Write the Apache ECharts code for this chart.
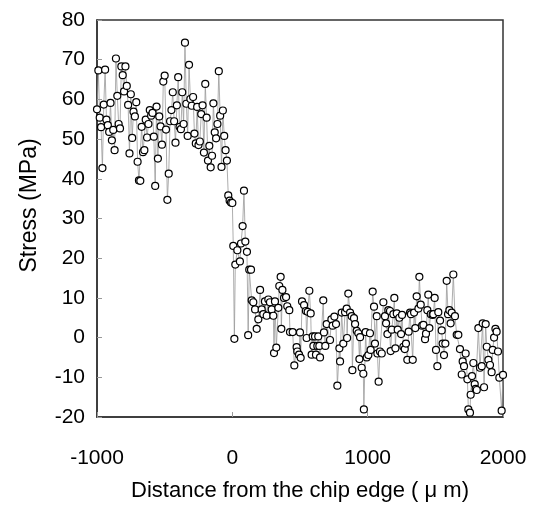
<!DOCTYPE html>
<html>
<head>
<meta charset="utf-8">
<script src="https://cdn.jsdelivr.net/npm/echarts@6/dist/echarts.min.js"></script>
<style>
  html, body { margin: 0; padding: 0; background: #fff; }
  #chart { width: 535px; height: 507px; }
</style>
</head>
<body>
<div id="chart"></div>
<script>
// distance from the chip edge (um)
const distance = [
  -1000, -990, -980, -970, -960, -950, -940, -930, -920, -910,
  -900, -890, -880, -870, -860, -850, -840, -830, -820, -810,
  -800, -790, -780, -770, -760, -750, -740, -730, -720, -710,
  -700, -690, -680, -670, -660, -650, -640, -630, -620, -610,
  -600, -590, -580, -570, -560, -550, -540, -530, -520, -510,
  -500, -490, -480, -470, -460, -450, -440, -430, -420, -410,
  -400, -390, -380, -370, -360, -350, -340, -330, -320, -310,
  -300, -290, -280, -270, -260, -250, -240, -230, -220, -210,
  -200, -190, -180, -170, -160, -150, -140, -130, -120, -110,
  -100, -90, -80, -70, -60, -50, -40, -30, -20, -10,
  0,
  7, 15, 22, 37, 56, 64, 76, 86, 96, 108,
  117, 125, 138, 143, 155, 168, 180, 192, 205, 217,
  229, 241, 254, 266, 278, 291, 303, 308, 315, 325,
  340, 347, 357, 362, 370, 382, 397, 406, 421, 426,
  446, 458, 475, 480, 493, 500, 505, 515, 530, 544,
  549, 557, 569, 579, 586, 594, 599, 611, 618, 628,
  635, 643, 648, 672, 677, 687, 697, 722, 732, 741,
  754, 766,
  776, 791, 796, 808, 820, 833, 845, 848, 857, 870,
  882, 887, 899, 907, 919, 931, 939, 944, 956, 968,
  972, 985, 993, 1005, 1017, 1022, 1037, 1047, 1054, 1067,
  1072, 1081, 1091, 1104, 1116, 1128, 1136, 1146, 1153, 1165,
  1170, 1178, 1190, 1197, 1205, 1215, 1222, 1234, 1247, 1254,
  1264, 1274, 1283, 1293, 1303, 1313, 1320, 1333, 1343, 1352,
  1362, 1375, 1382, 1392, 1402, 1412, 1424, 1431, 1441, 1448,
  1456, 1466, 1480, 1485, 1495, 1505, 1515, 1522, 1535, 1547,
  1554, 1564, 1574, 1584, 1594, 1604, 1613, 1621, 1633, 1645,
  1658, 1670, 1682, 1695, 1702, 1712, 1724, 1737, 1744, 1756,
  1761, 1771, 1781, 1791, 1798, 1806, 1818, 1830, 1843, 1850,
  1860, 1872, 1880, 1892, 1904, 1916, 1924, 1934, 1944, 1953,
  1963, 1973, 1990, 2000
];

// stress (MPa)
const stress = [
  57.5, 67.3, 55.4, 53, 42.7, 58.7, 67.5, 54.9, 53.5, 51.8,
  59.1, 49.7, 52.3, 47.2, 70.3, 60.9, 53.8, 52.7, 68.3, 66.1,
  62, 68.3, 63.4, 58.6, 46.4, 61.3, 50.3, 56.9, 55.7, 59.3,
  44.3, 39.6, 39.5, 53.1, 46.7, 47.2, 54.9, 50.4, 53.8, 57.3,
  55.9, 56.6, 50.6, 38.2, 58.2, 45.1, 55.7, 53.2, 48.6, 64.5,
  66,
  52.4, 34.7, 41.3, 54.5, 57.3, 61.8, 54.5, 49.1, 58.5, 65.6,
  53.1, 52.5, 61.8, 53.8, 74.3, 58.9, 50.8, 68.7, 60.1, 58.4,
  60.6, 51.4, 48.9, 58.1, 48.5, 49.4, 56.3, 58.5, 46.6, 63.9,
  55.4, 44.6, 48.3, 42.9, 45.8, 59, 51.7, 50.2, 53.8, 67.1,
  55.9, 43, 57.2, 50.8, 47.2, 44.6, 35.8, 34.5, 34, 33.9,
  23.1, -0.3, 18.4, 22, 19.2, 23.7, 28.1, 37, 24.2, 21.6,
  0.6, 17.1, 17.1, 9.4, 8.9, 7.1, 2.2, 4.6, 12, 7.1,
  5.9, 9.1, 5.5, 9.6, 8.9, 7.1, 5.5, -3.9, 9.1, -2.5,
  7.5, 13, 15.3, 2.2, 12, 10, 10.2, 7.9, 6.9, 1.4,
  1.4, -7, -2.4, -3.5, -4.3, 1.3, -5.1, 9.1, 8.2, 6.7,
  -0.1, 6.5, 11.8, 6.1, -4.3, 0.3, -2.1, 0.3, -4.3, -2.1,
  0.3, -2.1, -5, 9.4, 1.3, -2.1, 3.4, -0.6, 4.6, 3,
  5.3, 3.4,
  -12.1, -2.7, -6, 6.3, -1.5, 6.4, 7.3, -0.1, 11.1, 6.3,
  5.4, -8.2, 4.9, 3.4, 1.7, 1.1, -5.4, 0.1, -7.6, -9.1,
  -18.1, 1.4, -5, -4.4, 1.1, -3.1, 11.6, 7.8, -1.5, 5.4,
  -4, -11.1, -3.5, -4, 8.9, 5.4, 3.6, 0.9, 6.9, 6.7,
  -3.4, 2, 5.9, 10, -2.7, 6.1, 2, 5, 0.9, 5.7,
  -2.3, -2.9, -1.5, -5.6, 1.5, 6.3, 5.9, -5.6, 6.3, 2.4,
  10.4, 7.3, 15.3, 8.3, 3, 3.2, -0.4, 1, 6.9, 10.8,
  2.4, 5.9, 5.7, 5.9, 10, -3.1, -7.2, 6.4, 4.3, 1.8,
  -1.5, -4.4, -1.5, 14.3, 5.9, 6.9, 3.6, 6.3, 15.9, 5.4,
  0.7, 0.7, -2.9, -9.3, -6, -7.2, -4, -10.5, -18.1, -18.9,
  -14.4, -9.7, -6.4, -11.7, -12.9, -13.2, 2.4, -7.6, -7.2, 3.6,
  -12.5, 3.4, -2.3, -5.6, -6.9, -8.7, -3.1, 0, 2.2, 1.5,
  -3.5, -10.1, -18.4, -9.4
];

const xTitle = 'Distance from the chip edge ( \u03bc m)';
const yTitle = 'Stress (MPa)';

const chart = echarts.init(document.getElementById('chart'), null, { renderer: 'canvas' });

const font = 'Liberation Sans, Arial, sans-serif';

const option = {
  animation: false,
  backgroundColor: '#fff',
  grid: {
    left: 97,
    right: 32,
    top: 20,
    bottom: 80,
    show: true,
    borderColor: '#333',
    borderWidth: 1.5,
  },
  xAxis: {
    type: 'value',
    min: -1000,
    max: 2000,
    interval: 1000,
    name: xTitle,
    nameLocation: 'middle',
    nameGap: 63,
    nameTextStyle: { fontFamily: font, fontSize: 22, color: '#000' },
    axisLine: { onZero: false, lineStyle: { color: '#333', width: 1.5 } },
    axisTick: { inside: true, length: 5, lineStyle: { color: '#999' } },
    axisLabel: {
      fontFamily: font, fontSize: 21, color: '#000', margin: 31,
      formatter: v => String(v),
    },
    splitLine: { show: false },
  },
  yAxis: {
    type: 'value',
    min: -20,
    max: 80,
    interval: 10,
    name: yTitle,
    nameLocation: 'middle',
    nameGap: 56,
    nameTextStyle: { fontFamily: font, fontSize: 23, color: '#000', padding: [0, 0, 0, 26] },
    axisLine: { onZero: false, lineStyle: { color: '#333', width: 1.5 } },
    axisTick: { inside: true, length: 5, lineStyle: { color: '#999' } },
    axisLabel: {
      fontFamily: font, fontSize: 21, color: '#000', margin: 12,
      formatter: v => String(v),
    },
    splitLine: { show: false },
  },
  series: [
    {
      type: 'line',
      data: distance.map((d, i) => [d, stress[i]]),
      clip: false,
      showAllSymbol: true,
      symbol: 'circle',
      symbolSize: 7,
      lineStyle: { color: '#999', width: 0.8 },
      itemStyle: { color: '#fff', borderColor: '#000', borderWidth: 1.2 },
    },
  ],
};

chart.setOption(option);
</script>
</body>
</html>
